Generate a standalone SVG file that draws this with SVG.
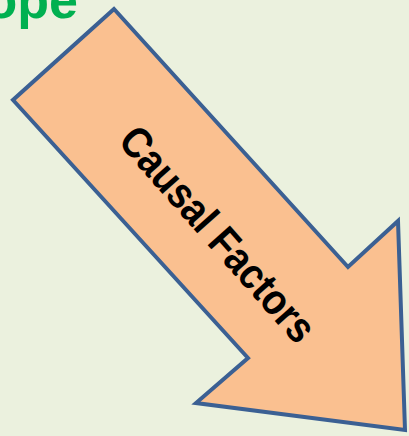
<svg xmlns="http://www.w3.org/2000/svg" width="409" height="436" viewBox="0 0 409 436">
<style>
.bg{fill:#EBF1DE}
.arrow{fill:#FAC090;stroke:#3B6093;stroke-width:4;stroke-linejoin:miter}
.lbl{font-family:"Liberation Sans",Arial,sans-serif;font-weight:bold;font-size:43px;fill:#000}
.title{font-family:"Liberation Sans",Arial,sans-serif;font-weight:bold;font-size:52px;fill:#00B050}
</style>
<rect class="bg" x="0" y="0" width="409" height="436"/>
<g id="title"><text class="title" x="78" y="18" text-anchor="end">Scope</text></g>
<g id="causal-factors">
<polygon class="arrow" points="114,9 13,100 248,358 196,403 405,430 398,221 348,267"/>
<text class="lbl" x="0" y="0" text-anchor="middle" dominant-baseline="central" textLength="272" lengthAdjust="spacingAndGlyphs" transform="translate(218,234) rotate(48.5)">Causal Factors</text>
</g>
<g id="connectors"/>
</svg>
